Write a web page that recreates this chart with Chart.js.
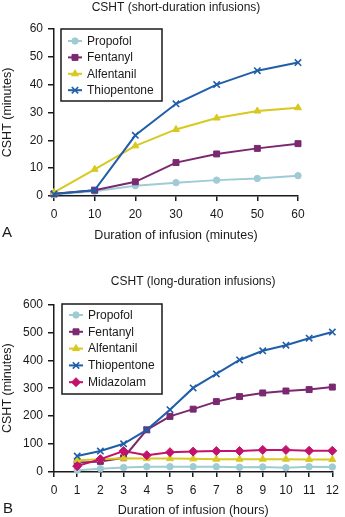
<!DOCTYPE html>
<html>
<head>
<meta charset="utf-8">
<script src="https://cdn.jsdelivr.net/npm/chart.js@4.4.1/dist/chart.umd.min.js"></script>
<style>
    html, body { margin: 0; padding: 0; background: #fff; overflow: hidden; }
    .panel { position: absolute; left: 0; width: 345px; }
    #panel-a { top: 0; height: 258px; }
    #panel-b { top: 258px; height: 259px; }
</style>
</head>
<body>
<div class="panel" id="panel-a"><canvas id="chart-short"></canvas></div>
<div class="panel" id="panel-b"><canvas id="chart-long"></canvas></div>
<script>
// ── Données : perfusions courtes (minutes) ────────────────────────────────
const minutesShort = [0, 10, 20, 30, 40, 50, 60];
const propofolShort    = [0.5, 1.7, 3.7, 4.8, 5.7, 6.3, 7.3];
const fentanylShort    = [0.8, 2.1, 5.1, 12.0, 15.1, 17.1, 18.8];
const alfentanilShort  = [1.3, 9.6, 18.0, 23.9, 28.0, 30.5, 31.7];
const thiopentoneShort = [0.7, 2.1, 21.8, 33.1, 40.0, 45.0, 47.9];

// ── Données : perfusions longues (heures) ─────────────────────────────────
const hoursLong = [1, 2, 3, 4, 5, 6, 7, 8, 9, 10, 11, 12];
const propofolLong    = [6, 12, 16, 19, 19, 19, 19, 17, 18, 15, 19, 18];
const fentanylLong    = [33, 38, 51, 151, 199, 225, 252, 270, 283, 290, 295, 304];
const alfentanilLong  = [42, 46, 49, 48, 48, 47, 46, 46, 46, 46, 45, 45];
const thiopentoneLong = [57, 75, 101, 151, 223, 301, 351, 401, 434, 454, 479, 501];
const midazolamLong   = [21, 46, 75, 60, 71, 73, 75, 75, 79, 79, 76, 76];

const FONT = 'Liberation Sans, Arial, Helvetica, sans-serif';
const INK = '#1a1a1a';

const drugStyle = {
    Propofol:    { color: '#9fcbd5', pointStyle: 'circle',   radius: 3.2 },
    Fentanyl:    { color: '#7a2870', pointStyle: 'rect',     radius: 4.2 },
    Alfentanil:  { color: '#d8c820', pointStyle: 'triangle', radius: 4 },
    Thiopentone: { color: '#1f5ea8', pointStyle: 'crossRot', radius: 4.5 },
    Midazolam:   { color: '#c3126b', pointStyle: 'rectRot',  radius: 4.5 },
};

const toPoints = (xs, ys) => xs.map((x, i) => ({ x, y: ys[i] }));

function makeDataset(label, xs, ys, order) {
    const s = drugStyle[label];
    return {
        label,
        data: toPoints(xs, ys),
        borderColor: s.color,
        backgroundColor: s.color,
        pointBackgroundColor: s.color,
        pointBorderColor: s.color,
        pointStyle: s.pointStyle,
        pointRadius: s.radius,
        pointBorderWidth: s.pointStyle === 'crossRot' ? 1.6 : 1,
        borderWidth: 2,
        tension: 0,
        clip: false,
        order,
    };
}

// Légende encadrée dessinée à la main (la légende native n'a pas de cadre)
const boxLegend = {
    id: 'boxLegend',
    afterDraw(chart, args, o) {
        const ctx = chart.ctx;
        ctx.save();
        ctx.fillStyle = '#fff';
        ctx.fillRect(o.x, o.y, o.w, o.h);
        ctx.lineWidth = 1.5;
        ctx.strokeStyle = INK;
        ctx.strokeRect(o.x, o.y, o.w, o.h);
        chart.data.datasets.forEach((ds, i) => {
            const y = o.firstY + i * o.rowH;
            ctx.strokeStyle = ds.borderColor;
            ctx.lineWidth = 2;
            ctx.beginPath();
            ctx.moveTo(o.x + 7, y);
            ctx.lineTo(o.x + 21, y);
            ctx.stroke();
            ctx.fillStyle = ds.pointBackgroundColor;
            ctx.lineWidth = ds.pointBorderWidth;
            Chart.helpers.drawPoint(ctx, {
                pointStyle: ds.pointStyle,
                radius: ds.pointRadius,
                borderWidth: ds.pointBorderWidth,
                rotation: 0,
            }, o.x + 14, y);
            ctx.fillStyle = INK;
            ctx.font = '12px ' + FONT;
            ctx.textBaseline = 'middle';
            ctx.textAlign = 'left';
            ctx.fillText(ds.label, o.x + 26, y + 0.5);
        });
        ctx.restore();
    },
};

// Lettre du panneau (A / B)
const panelTag = {
    id: 'panelTag',
    afterDraw(chart, args, o) {
        const ctx = chart.ctx;
        ctx.save();
        ctx.fillStyle = INK;
        ctx.font = '15px ' + FONT;
        ctx.textBaseline = 'middle';
        ctx.fillText(o.text, o.x, o.y);
        ctx.restore();
    },
};

function axisBase(extra) {
    return Object.assign({
        type: 'linear',
        grid: { display: true, drawOnChartArea: false, drawTicks: true, tickLength: 5, color: INK, lineWidth: 1.5 },
        border: { display: true, color: INK, width: 1.5 },
        ticks: { color: INK, font: { family: FONT, size: 12 } },
    }, extra);
}

function makeChart(canvasId, cfg) {
    return new Chart(document.getElementById(canvasId), {
        type: 'line',
        data: { datasets: cfg.datasets },
        plugins: [boxLegend, panelTag],
        options: {
            responsive: true,
            maintainAspectRatio: false,
            animation: false,
            layout: { padding: { left: 0, right: cfg.padRight, top: 0, bottom: 0 } },
            plugins: {
                legend: { display: false },
                tooltip: { enabled: false },
                title: {
                    display: true,
                    fullSize: false,
                    text: cfg.title,
                    color: INK,
                    font: { family: FONT, size: 12, weight: 'normal' },
                    padding: cfg.titlePad,
                },
                boxLegend: cfg.legend,
                panelTag: cfg.tag,
            },
            scales: {
                x: axisBase({
                    min: cfg.xMin, max: cfg.xMax,
                    afterFit: s => { s.height = cfg.xHeight; },
                    ticks: { color: INK, font: { family: FONT, size: 12 }, stepSize: cfg.xStep, padding: 6, maxRotation: 0, autoSkip: false },
                    title: {
                        display: true, text: cfg.xTitle, color: INK,
                        font: { family: FONT, size: 12.5, lineHeight: 1 },
                        padding: { top: 0, bottom: cfg.xTitlePadBottom },
                    },
                }),
                y: axisBase({
                    min: 0, max: cfg.yMax,
                    afterFit: s => { s.width = 54; },
                    grid: { display: true, drawOnChartArea: false, drawTicks: true, tickLength: 6, color: INK, lineWidth: 1.5 },
                    ticks: { color: INK, font: { family: FONT, size: 12 }, stepSize: cfg.yStep, padding: 5 },
                    title: {
                        display: true, text: 'CSHT (minutes)', color: INK,
                        font: { family: FONT, size: 12.5, lineHeight: 1 },
                        padding: { top: 1.5, bottom: 0 },
                    },
                }),
            },
        },
    });
}

// ── A : perfusions courtes ────────────────────────────────────────────────
makeChart('chart-short', {
    title: 'CSHT (short-duration infusions)',
    titlePad: { top: 0, bottom: 14.5 },
    padRight: 47,
    xMin: 0, xMax: 60, xStep: 10, xHeight: 62,
    xTitle: 'Duration of infusion (minutes)', xTitlePadBottom: 16,
    yMax: 60, yStep: 10,
    datasets: [
        makeDataset('Propofol', minutesShort, propofolShort, 4),
        makeDataset('Fentanyl', minutesShort, fentanylShort, 3),
        makeDataset('Alfentanil', minutesShort, alfentanilShort, 2),
        makeDataset('Thiopentone', minutesShort, thiopentoneShort, 1),
    ],
    legend: { x: 61, y: 29, w: 101, h: 72, firstY: 41, rowH: 16.4 },
    tag: { text: 'A', x: 2, y: 233 },
});

// ── B : perfusions longues ────────────────────────────────────────────────
makeChart('chart-long', {
    title: 'CSHT (long-duration infusions)',
    titlePad: { top: 16, bottom: 16 },
    padRight: 7,
    xMin: 0, xMax: 12, xStep: 1, xHeight: 45,
    xTitle: 'Duration of infusion (hours)', xTitlePadBottom: 0,
    yMax: 600, yStep: 100,
    datasets: [
        makeDataset('Propofol', hoursLong, propofolLong, 5),
        makeDataset('Fentanyl', hoursLong, fentanylLong, 4),
        makeDataset('Alfentanil', hoursLong, alfentanilLong, 3),
        makeDataset('Thiopentone', hoursLong, thiopentoneLong, 2),
        makeDataset('Midazolam', hoursLong, midazolamLong, 1),
    ],
    legend: { x: 62, y: 46, w: 100, h: 90, firstY: 57, rowH: 16.8 },
    tag: { text: 'B', x: 3, y: 251 },
});
</script>
</body>
</html>
